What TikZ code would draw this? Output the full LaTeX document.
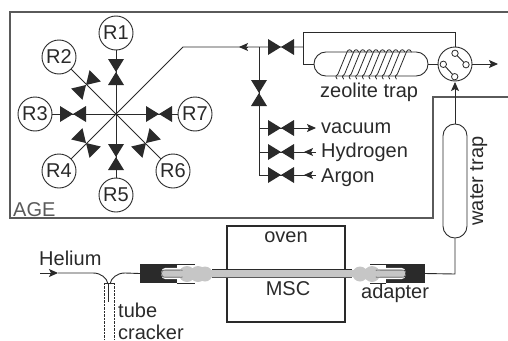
\documentclass[tikz,border=0pt]{standalone}
\usepackage{fontspec}
\setmainfont{Liberation Sans}
\usetikzlibrary{arrows.meta}
\definecolor{ink}{HTML}{2A2A2A}
\definecolor{boxgray}{HTML}{5A5A5A}
\definecolor{tubegray}{HTML}{C6C6C6}
\tikzset{
  line/.style={draw=ink,line width=0.9pt},
  heavy/.style={draw=ink,line width=1.6pt},
  port/.style={circle,draw=ink,fill=white,line width=0.9pt,minimum size=34pt,inner sep=0pt,font=\fontsize{20}{20}\selectfont,text=ink},
  lab/.style={anchor=base west,inner sep=0pt,font=\fontsize{20}{20}\selectfont,text=ink},
  tip/.style={draw=ink,line width=0.9pt,-{Stealth[length=9pt,width=8pt,inset=2pt]}},
}
\newcommand{\valve}[3]{%
  \coordinate (#1) at (#2);
  \fill[ink,rotate around={#3:(#1)}] ([shift={(-8,-13)}]#1) -- ([shift={(8,-13)}]#1) -- ([shift={(-8,13)}]#1) -- ([shift={(8,13)}]#1) -- cycle;
}
\begin{document}
\begin{tikzpicture}[x=1pt,y=-1pt]
\useasboundingbox (0,0) rectangle (508,340);
% AGE enclosure
\coordinate (ag1) at (508,12); \coordinate (ag2) at (10,12); \coordinate (ag3) at (10,218);
\coordinate (ag4) at (433,218); \coordinate (ag5) at (433,97); \coordinate (ag6) at (508,97);
\draw[draw=boxgray,line width=2pt] (ag1) -- (ag2) -- (ag3) -- (ag4) -- (ag5) -- (ag6);
\node[lab,text=boxgray] (age) at (13,216) {AGE};
% star manifold
\coordinate (hub) at (116,114);
\node[port] (R1) at (116,33) {R1};
\node[port] (R2) at (59,57) {R2};
\node[port] (R3) at (35,114) {R3};
\node[port] (R4) at (59,171) {R4};
\node[port] (R5) at (116,195) {R5};
\node[port] (R6) at (173,171) {R6};
\node[port] (R7) at (195,114) {R7};
\foreach \r in {R1,R2,R3,R4,R5,R6,R7} \draw[line] (hub) -- (\r);
\valve{v1}{116,72}{0}
\valve{v2}{86,85}{-45}
\valve{v3}{73,114}{90}
\valve{v4}{86,143}{45}
\valve{v5}{116,157}{0}
\valve{v6}{146,143}{-45}
\valve{v7}{159,114}{90}
% main line
\coordinate (bend) at (183,47);
\coordinate (jn) at (259,47);
\coordinate (vm) at (303,47);
\draw[line] (hub) -- (bend) -- (jn) -- (vm);
\coordinate (a0a) at (248,47); \coordinate (a0b) at (239,47);
\draw[tip] (a0a) -- (a0b);
\valve{vtop}{281,47}{90}
% trap bypass
\coordinate (sw) at (455,64);
\coordinate (b1) at (303,32); \coordinate (b2) at (455,32);
\coordinate (b3) at (303,64);
\draw[line] (vm) -- (b1) -- (b2) -- (sw);
\draw[line] (vm) -- (b3) -- (sw);
% zeolite trap
\node[draw=ink,fill=white,line width=0.9pt,rounded corners=11.9pt,minimum width=114pt,minimum height=24pt,inner sep=0pt] (ztrap) at (371,64) {};
\foreach \i in {0,...,9}{
  \draw[draw=ink,line width=0.8pt,line cap=round]
    ({337+\i*6.6},79) .. controls ({335+\i*6.6},76) and ({336+\i*6.6},76) .. ({338+\i*6.6},74)
    -- ({347+\i*6.6},52) .. controls ({348+\i*6.6},49) and ({351+\i*6.6},49) .. ({352+\i*6.6},52);
}
\node[lab] (zl) at (320,97) {zeolite trap};
% switch
\node[circle,draw=ink,fill=white,line width=0.9pt,minimum size=34pt,inner sep=0pt] (swn) at (sw) {};
\draw[line] (455,53.3) -- (466,64.7);
\draw[line] (443.3,64.3) -- (454.7,76.7);
\foreach \p/\q in {455/53.3,466/64.7,443.3/64.3,454.7/76.7}
  \draw[draw=ink,fill=white,line width=0.8pt] (\p,\q) circle (3.2);
\coordinate (out) at (498,64);
\draw[tip] (swn) -- (out);
% vertical service line
\coordinate (s1) at (259,128); \coordinate (s2) at (259,152); \coordinate (s3) at (259,175);
\draw[line] (jn) -- (s3);
\valve{vv}{259,93}{0}
\coordinate (e1) at (316,128); \coordinate (e2) at (316,152); \coordinate (e3) at (316,175);
\coordinate (m2) at (304,152); \coordinate (m3) at (304,175);
\draw[tip] (s1) -- (e1);
\draw[line] (s2) -- (e2);
\draw[line] (s3) -- (e3);
\draw[tip] (e2) -- (m2);
\draw[tip] (e3) -- (m3);
\valve{vs1}{281,128}{90}
\valve{vs2}{281,152}{90}
\valve{vs3}{281,175}{90}
\node[lab] (t1) at (321,133) {vacuum};
\node[lab] (t2) at (321,157) {Hydrogen};
\node[lab] (t3) at (321,182) {Argon};
% water trap
\node[draw=ink,fill=white,line width=0.9pt,rounded corners=11.9pt,minimum width=24pt,minimum height=114pt,inner sep=0pt] (wtrap) at (455,181) {};
\coordinate (sb) at (455,82);
\draw[tip] (wtrap.north) -- (sb);
\node[lab,anchor=base,rotate=90] (wl) at (483,181) {water trap};
% oven
\node[draw=ink,line width=1.6pt,minimum width=118pt,minimum height=96pt,inner sep=0pt] (oven) at (286,274) {};
\node[lab,anchor=base] (ovt) at (286,242) {oven};
\node[lab,anchor=base] (mst) at (288,295) {MSC};
\node[lab] (adt) at (361,298) {adapter};
% adapters
\node[fill=ink,minimum width=37pt,minimum height=19pt,inner sep=0pt] (adL) at (158.5,273.5) {};
\node[fill=ink,minimum width=39pt,minimum height=19pt,inner sep=0pt] (adR) at (405,273.5) {};
\draw[draw=ink,line width=0.5pt] (177,264) -- (195,264) (177,283) -- (195,283);
\draw[draw=ink,line width=0.5pt] (386,264) -- (370,264) (386,283) -- (370,283);
\coordinate (wb) at (455,274);
\draw[line] (wtrap.south) -- (wb) -- (adR.east);
% glass tube
\draw[draw=white,line width=1.2pt,fill=tubegray,rounded corners=3.5pt] (162,268.5) rectangle (200,278.5);
\draw[draw=white,line width=1.2pt,fill=tubegray,rounded corners=3.5pt] (365,268.5) rectangle (405,278.5);
\fill[tubegray] (187,274) circle (8) (198,274) circle (8) (205,274) circle (7.5);
\fill[tubegray] (360,274) circle (7.5) (372,274) circle (8);
\draw[draw=ink,line width=0.5pt,fill=tubegray] (163.5,270) -- (182,270) -- (182,277) -- (163.5,277) .. controls (161,277) and (161,270) .. (163.5,270);
\draw[draw=ink,line width=0.5pt,fill=tubegray] (404,270) -- (376,270) -- (376,277) -- (404,277) .. controls (406,277) and (406,270) .. (404,270);
\fill[tubegray] (180,270.5) rectangle (190,276.5) (370,270.5) rectangle (380,276.5);
\fill[tubegray] (200,270) rectangle (362,277);
\draw[draw=ink,line width=1pt] (212,269.8) -- (352,269.8);
\draw[draw=boxgray,line width=0.7pt] (212,277) -- (352,277);
% helium and cracker
\coordinate (he) at (40,273);
\coordinate (ha) at (58,273);
\coordinate (cr) at (108,284);
\coordinate (cl) at (110,284);
\draw[tip] (he) -- (ha);
\draw[line] (ha) -- (93,273) .. controls (101,273) and (107,278) .. (cr);
\draw[line] (adL.west) -- (125,273) .. controls (117,273) and (111,278) .. (cl);
\draw[line] (cr) -- (108,302);
\draw[draw=ink,line width=0.7pt] (104,340) -- (104,283) -- (114,283) -- (114,340);
\draw[draw=white,line width=0.8pt,dash pattern=on 1pt off 2.5pt] (104,285) -- (104,340) (114,285) -- (114,340);
\node[lab] (hel) at (39,265) {Helium};
\node[lab] (tu) at (118,317) {tube};
\node[lab] (cra) at (118,339) {cracker};
\end{tikzpicture}
\end{document}
